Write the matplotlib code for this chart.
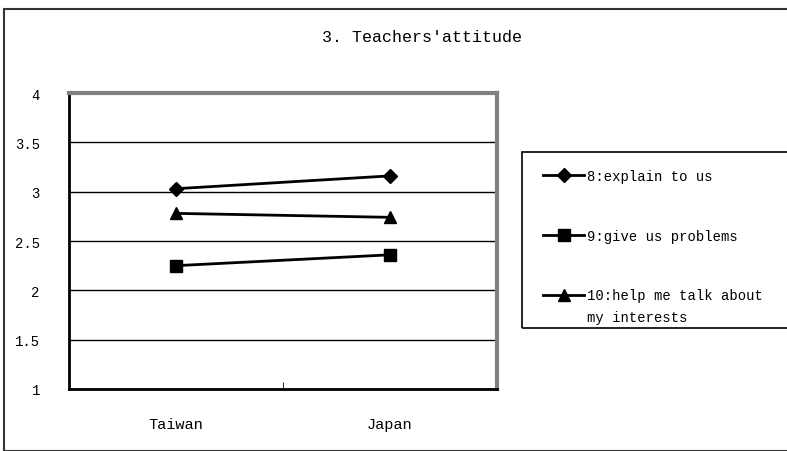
import matplotlib
matplotlib.use("Agg")
import matplotlib.pyplot as plt
from matplotlib.patches import Rectangle

categories = ["Taiwan", "Japan"]
series_names = ["8:explain to us", "9:give us problems", "10:help me talk about"]
explain = [3.03, 3.16]
problems = [2.25, 2.36]
interests = [2.78, 2.74]
yticks = [1, 1.5, 2, 2.5, 3, 3.5, 4]
ytick_labels = ["1", "1.5", "2", "2.5", "3", "3.5", "4"]

plt.rcParams["font.family"] = ["Liberation Mono", "DejaVu Sans Mono"]

fig = plt.figure(figsize=(7.87, 4.52), dpi=100)
ax = fig.add_axes([69 / 787, 1 - 390 / 452, 428 / 787, 296 / 452])

x = list(range(len(categories)))
ax.plot(x, explain, color="black", lw=2, marker="D", ms=7, label=series_names[0])
ax.plot(x, problems, color="black", lw=2, marker="s", ms=9, label=series_names[1])
ax.plot(x, interests, color="black", lw=2, marker="^", ms=8, label=series_names[2])

ax.set_xlim(-0.5, 1.5)
ax.set_ylim(1, 4)
ax.set_yticks(yticks)
ax.set_yticklabels(ytick_labels, fontsize=10)
ax.set_xticks(x)
ax.set_xticklabels(categories, fontsize=11)
ax.tick_params(axis="x", length=0, pad=20)
ax.tick_params(axis="y", length=0, pad=21)
ax.set_xticks([0.5], minor=True)
ax.tick_params(axis="x", which="minor", length=5, direction="in")
ax.grid(axis="y", color="black", lw=1)
ax.set_axisbelow(True)

for side in ["top", "right"]:
    ax.spines[side].set_color("#808080")
    ax.spines[side].set_linewidth(3)
for side in ["left", "bottom"]:
    ax.spines[side].set_color("black")
    ax.spines[side].set_linewidth(2)

# legend entries without frame; box drawn separately
leg = fig.legend(loc="upper left", bbox_to_anchor=(533 / 787, 1 - 160 / 452),
                 frameon=False, fontsize=10, labelspacing=3.3,
                 handlelength=3.0, handletextpad=0.2, borderpad=0.2)
fig.text(587 / 787, 1 - 318 / 452, "my interests", fontsize=10, ha="left", va="center")
fig.patches.append(Rectangle((522 / 787, 1 - 329 / 452), 270 / 787, 176 / 452,
                             transform=fig.transFigure, fill=False,
                             edgecolor="black", lw=1.2))

fig.text(422 / 787, 1 - 38 / 452, "3. Teachers'attitude", ha="center", va="center", fontsize=12)

fig.patches.append(Rectangle((4 / 787, 0), 1.2, 1 - 10 / 452, transform=fig.transFigure,
                             fill=False, edgecolor="#333333", lw=1.5))

fig.savefig("out.png", dpi=100)
